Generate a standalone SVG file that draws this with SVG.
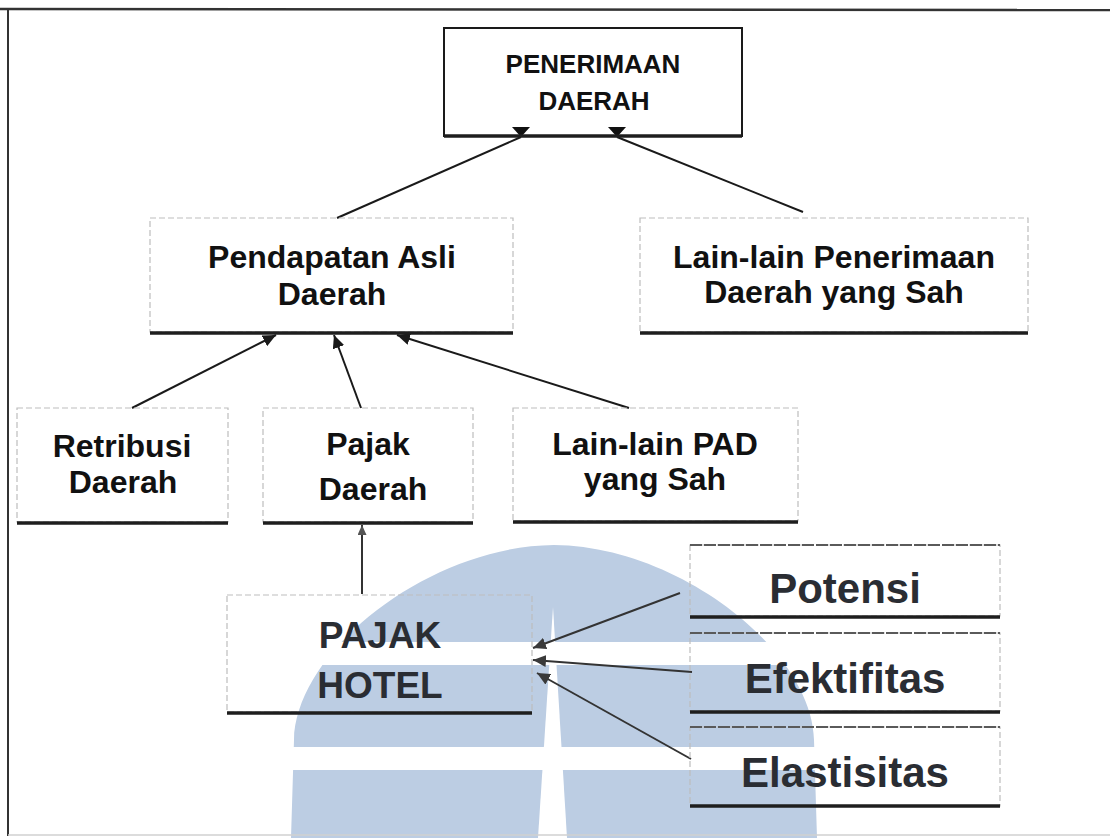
<svg xmlns="http://www.w3.org/2000/svg" width="1110" height="838" viewBox="0 0 1110 838">
<defs>
<style>
.t{font-family:"Liberation Sans",Arial,sans-serif;font-weight:bold;text-anchor:middle;fill:#111}
.t2{font-family:"Liberation Sans",Arial,sans-serif;font-weight:bold;text-anchor:middle;fill:#2a2d33}
.edge{fill:none;stroke:#bdbdbd;stroke-width:1.2;stroke-dasharray:6 3}
.solid{fill:none;stroke:#1a1a1a;stroke-width:2}
.base{stroke:#1e1e1e;stroke-width:3.5}
.topd{stroke:#5a5a5a;stroke-width:1.8;stroke-dasharray:12 2}
.c{stroke:#1a1a1a;stroke-width:2;fill:none}
.c2{stroke:#333;stroke-width:2;fill:none}
.wm{fill:#bccde3}
.gap{fill:#ffffff}
</style>
<marker id="ah" markerWidth="14" markerHeight="12" refX="13" refY="6" orient="auto" markerUnits="userSpaceOnUse"><path d="M0,0 L13,6 L0,12 z" fill="#1a1a1a"/></marker>
<marker id="ah2" markerWidth="14" markerHeight="12" refX="13" refY="6" orient="auto" markerUnits="userSpaceOnUse"><path d="M0,0 L13,6 L0,12 z" fill="#3a3a3a"/></marker>
<marker id="ah3" markerWidth="11" markerHeight="9" refX="10" refY="4.5" orient="auto" markerUnits="userSpaceOnUse"><path d="M0,0 L10,4.5 L0,9 z" fill="#555"/></marker>
<marker id="down" markerWidth="18" markerHeight="10" refX="9" refY="10" orient="0" markerUnits="userSpaceOnUse"><path d="M0,0 L18,0 L9,10 z" fill="#111"/></marker>
</defs>
<rect width="1110" height="838" fill="#ffffff"/>
<g id="watermark">
<path class="wm" d="M291,838 L294,740 C296,650 430,546 554,545 C678,546 812,650 814,740 L817,838 Z"/>
<rect class="gap" x="280" y="642" width="550" height="23"/>
<rect class="gap" x="280" y="747" width="550" height="23"/>
<polygon class="gap" points="553,607 567,838 538,838"/>
</g>
<g id="frame">
<line x1="0" y1="9" x2="1110" y2="10" stroke="#333" stroke-width="2.5"/>
<line x1="8" y1="9" x2="8" y2="836" stroke="#333" stroke-width="2"/>
<line x1="8" y1="835" x2="1110" y2="835" stroke="#d0d0d0" stroke-width="1.5"/>
</g>
<g id="connectors">
<line class="c" x1="337" y1="218" x2="521" y2="137" marker-end="url(#down)"/>
<line class="c" x1="617" y1="137" x2="803" y2="212" marker-start="url(#down)"/>
<line class="c" x1="132" y1="408" x2="276" y2="335" marker-end="url(#ah)"/>
<line class="c" x1="361" y1="408" x2="334" y2="335" marker-end="url(#ah)"/>
<line class="c" x1="629" y1="408" x2="397" y2="335" marker-end="url(#ah)"/>
<line class="c2" x1="362" y1="594" x2="362" y2="525" marker-end="url(#ah3)"/>
<line class="c2" x1="680" y1="593" x2="533" y2="648" marker-end="url(#ah2)"/>
<line class="c2" x1="692" y1="672" x2="533" y2="660" marker-end="url(#ah2)"/>
<line class="c2" x1="691" y1="759" x2="537" y2="673" marker-end="url(#ah2)"/>
</g>
<g id="node-penerimaan">
<rect class="solid" x="444" y="28" width="298" height="108"/>
<line class="base" x1="444" y1="136" x2="742" y2="136"/>
<text class="t" x="593" y="73" font-size="26">PENERIMAAN</text>
<text class="t" x="594" y="110" font-size="26">DAERAH</text>
</g>
<g id="node-pad">
<rect class="edge" x="150" y="218" width="363" height="114"/>
<line class="base" x1="150" y1="333" x2="513" y2="333"/>
<text class="t" x="332" y="268" font-size="32">Pendapatan Asli</text>
<text class="t" x="332" y="305" font-size="32">Daerah</text>
</g>
<g id="node-lain-penerimaan">
<rect class="edge" x="640" y="218" width="388" height="114"/>
<line class="base" x1="640" y1="333" x2="1028" y2="333"/>
<text class="t" x="834" y="268" font-size="32">Lain-lain Penerimaan</text>
<text class="t" x="834" y="303" font-size="32">Daerah yang Sah</text>
</g>
<g id="node-retribusi">
<rect class="edge" x="17" y="408" width="211" height="114"/>
<line class="base" x1="17" y1="523" x2="228" y2="523"/>
<text class="t" x="122" y="457" font-size="32">Retribusi</text>
<text class="t" x="123" y="493" font-size="32">Daerah</text>
</g>
<g id="node-pajak-daerah">
<rect class="edge" x="263" y="408" width="210" height="114"/>
<line class="base" x1="263" y1="523" x2="473" y2="523"/>
<text class="t" x="368" y="455" font-size="32">Pajak</text>
<text class="t" x="373" y="500" font-size="32">Daerah</text>
</g>
<g id="node-lain-pad">
<rect class="edge" x="513" y="408" width="285" height="113"/>
<line class="base" x1="513" y1="522" x2="798" y2="522"/>
<text class="t" x="655" y="455" font-size="32">Lain-lain PAD</text>
<text class="t" x="655" y="490" font-size="32">yang Sah</text>
</g>
<g id="node-pajak-hotel">
<rect class="edge" x="227" y="595" width="305" height="117"/>
<line class="base" x1="227" y1="713" x2="532" y2="713"/>
<text class="t2" x="380" y="648" font-size="37">PAJAK</text>
<text class="t2" x="380" y="698" font-size="37">HOTEL</text>
</g>
<g id="node-potensi">
<rect class="edge" x="690" y="545" width="310" height="71"/>
<line class="topd" x1="690" y1="545" x2="1000" y2="545"/>
<line class="base" x1="690" y1="617" x2="1000" y2="617"/>
<text class="t2" x="845" y="603" font-size="42">Potensi</text>
</g>
<g id="node-efektifitas">
<rect class="edge" x="690" y="633" width="310" height="78"/>
<line class="topd" x1="690" y1="633" x2="1000" y2="633"/>
<line class="base" x1="690" y1="712" x2="1000" y2="712"/>
<text class="t2" x="845" y="693" font-size="42">Efektifitas</text>
</g>
<g id="node-elastisitas">
<rect class="edge" x="690" y="727" width="310" height="79"/>
<line class="topd" x1="690" y1="727" x2="1000" y2="727"/>
<line class="base" x1="690" y1="806" x2="1000" y2="806"/>
<text class="t2" x="845" y="787" font-size="42">Elastisitas</text>
</g>
</svg>
